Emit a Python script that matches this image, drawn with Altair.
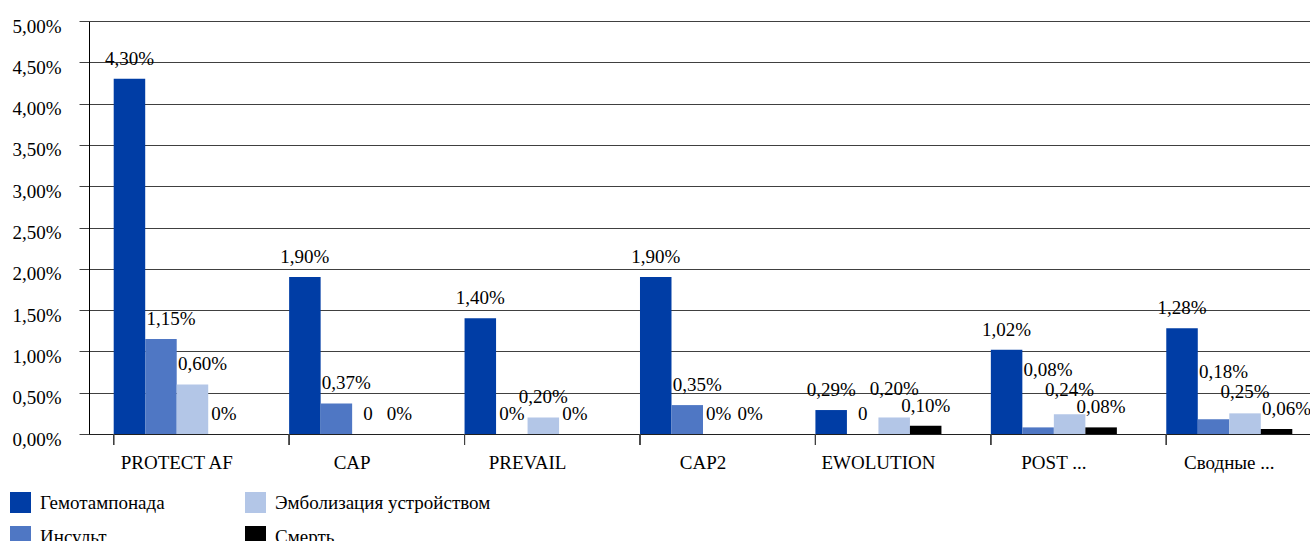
import altair as alt
import pandas as pd

studies = ["PROTECT AF", "CAP", "PREVAIL", "CAP2", "EWOLUTION", "POST ...", "Сводные ..."]
series = ["Гемотампонада", "Инсульт", "Эмболизация устройством", "Смерть"]
colors = ["#003DA5", "#4F77C4", "#B3C6E7", "#000000"]

hemo = [4.30, 1.90, 1.40, 1.90, 0.29, 1.02, 1.28]
stroke = [1.15, 0.37, 0.00, 0.35, 0.00, 0.08, 0.18]
embol = [0.60, 0.00, 0.20, 0.00, 0.20, 0.24, 0.25]
death = [0.00, 0.00, 0.00, 0.00, 0.10, 0.08, 0.06]

hemo_lbl = ["4,30%", "1,90%", "1,40%", "1,90%", "0,29%", "1,02%", "1,28%"]
stroke_lbl = ["1,15%", "0,37%", "0%", "0,35%", "0", "0,08%", "0,18%"]
embol_lbl = ["0,60%", "0", "0,20%", "0%", "0,20%", "0,24%", "0,25%"]
death_lbl = ["0%", "0%", "0%", "0%", "0,10%", "0,08%", "0,06%"]

y_ticks = [0, 0.005, 0.01, 0.015, 0.02, 0.025, 0.03, 0.035, 0.04, 0.045, 0.05]

# ---- layout constants (pixels) ----
W, H = 1221, 413
RANGE_W = 1228
PAD_IN = 0.2816
STEP = RANGE_W / 7
SLOT = STEP * (1 - PAD_IN) / 4
PX_PER_UNIT = H / 0.05
LABEL_GAP = 20
SHIFT = 10
FS = 19

FONT = "Liberation Serif"


def text_w(s):
    return sum(9.5 if c.isdigit() else 4.75 if c == "," else 15.8 for c in s)


# ---- label placement (simple collision avoidance, like the source) ----
all_vals = [hemo, stroke, embol, death]
all_lbls = [hemo_lbl, stroke_lbl, embol_lbl, death_lbl]
rows = []
for k, st in enumerate(studies):
    vals = [all_vals[s][k] / 100.0 for s in range(4)]
    lbls = [all_lbls[s][k] for s in range(4)]
    top = [H - v * PX_PER_UNIT for v in vals]
    w = [text_w(l) for l in lbls]
    shift = [0] * 4
    for i in range(1, 4):
        if top[i - 1] < top[i] - 14 and w[i] > SLOT:
            shift[i] = SHIFT
    cx = [i * SLOT + shift[i] for i in range(4)]
    cy = [t - LABEL_GAP for t in top]
    for i in range(2, -1, -1):
        for j in range(i + 1, 4):
            dxc = abs(cx[i] - cx[j])
            gap = 20 if dxc < 25 else 17
            if dxc < (w[i] + w[j]) / 2 - 6 and abs(cy[i] - cy[j]) < gap + 1:
                cy[i] = min(cy[i], cy[j] - gap)
    for s in range(4):
        lift = (top[s] - LABEL_GAP) - cy[s]
        rows.append({"study": st, "series": series[s], "value": vals[s],
                     "label": lbls[s], "label_y": vals[s] + lift / PX_PER_UNIT,
                     "shifted": shift[s] > 0})
df = pd.DataFrame(rows)

xenc = alt.X(
    "study:N", sort=studies,
    scale=alt.Scale(paddingInner=PAD_IN, paddingOuter=PAD_IN / 2, range=[0, RANGE_W]),
    axis=alt.Axis(title=None, labelAngle=0, ticks=False, grid=False,
                  labelFont=FONT, labelFontSize=FS, labelColor="black",
                  labelPadding=19, domainColor="#202020", domainWidth=1),
)
xoff = alt.XOffset("series:N", sort=series, scale=alt.Scale(paddingInner=0, paddingOuter=0))
yenc = alt.Y(
    "value:Q", scale=alt.Scale(domain=[0, 0.05], nice=False, zero=True),
    axis=alt.Axis(title=None, values=y_ticks,
                  labelExpr="replace(format(datum.value, '.2%'), '.', ',')",
                  tickSize=10, labelPadding=18, labelOffset=5, grid=True,
                  gridColor="#404040", tickColor="#404040", gridWidth=1,
                  domainColor="black", labelFont=FONT, labelFontSize=FS,
                  labelColor="black"),
)

base = alt.Chart(df)

bars = base.mark_bar(strokeWidth=0).encode(
    x=xenc, xOffset=xoff, y=yenc,
    color=alt.Color("series:N",
                    scale=alt.Scale(domain=series, range=colors),
                    legend=alt.Legend(title=None, orient="none", legendX=-79, legendY=471,
                                      columns=2, direction="vertical",
                                      symbolType="square", symbolSize=441,
                                      symbolStrokeWidth=0, symbolOpacity=1,
                                      labelFont=FONT, labelFontSize=FS, labelColor="black",
                                      columnPadding=80, rowPadding=13, labelOffset=9,
                                      labelLimit=400)),
)


def label_layer(flag, dx):
    return base.transform_filter(alt.datum.shifted == flag).mark_text(
        font=FONT, fontSize=FS, color="black", baseline="middle", dy=-LABEL_GAP, dx=dx
    ).encode(
        x=alt.X("study:N", sort=studies),
        xOffset=alt.XOffset("series:N", sort=series),
        y="label_y:Q",
        text="label:N",
    )


ticks = base.mark_rule(color="#404040", strokeWidth=1).encode(
    x=alt.X("study:N", sort=studies, bandPosition=0),
    y=alt.value(H), y2=alt.value(H + 11),
)

chart = alt.layer(bars, label_layer(False, 0), label_layer(True, SHIFT), ticks).properties(
    width=W, height=H,
    autosize=alt.AutoSizeParams(type="none"),
    padding={"left": 89, "top": 21, "right": 0, "bottom": 107},
).configure(font=FONT).configure_view(stroke=None)

chart.save("out.html", embed_options={"renderer": "svg", "actions": False})
